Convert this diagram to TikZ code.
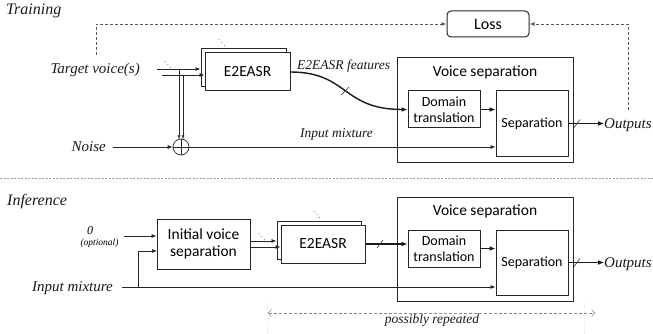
\documentclass[tikz,border=0pt]{standalone}
\usepackage{fontspec}
\setmainfont{Liberation Serif}
\newfontfamily\lblfont{Liberation Serif}
\newfontfamily\boxfont{Carlito}
\usetikzlibrary{arrows.meta}
\begin{document}
\begin{tikzpicture}[x=1pt,y=-1pt,
 box/.style={draw=black!85, line width=1pt, fill=white, font=\boxfont\fontsize{15.5}{17.5}\selectfont, inner sep=0pt, align=center},
 sbox/.style={box, font=\boxfont\fontsize{14}{16}\selectfont},
 lbl/.style={font=\lblfont\itshape\fontsize{15}{17}\selectfont, inner sep=0pt, text=black!90},
 slbl/.style={font=\lblfont\itshape\fontsize{13.5}{15}\selectfont, inner sep=0pt, text=black!90},
 arr/.style={-{Latex[length=5pt,width=4pt]}, line width=0.7pt, draw=black!85},
 sarr/.style={-{Latex[length=4pt,width=3pt]}, line width=0.6pt, draw=black!85},
 tarr/.style={-{Latex[length=6pt,width=5pt]}, line width=1.8pt, draw=black!90},
 carr/.style={-{Latex[length=6pt,width=5pt]}, line width=1.4pt, draw=black!90},
 tick/.style={line width=0.6pt, draw=black!80},
 lossln/.style={dash pattern=on 3pt off 2pt, draw=black!65, line width=0.9pt, -{Latex[length=5pt,width=4pt]}},
 dotsn/.style={font=\fontsize{7}{8}\selectfont, inner sep=0pt},
]
\useasboundingbox (0,0) rectangle (653,334);

% ---------------- Training ----------------
\node[lbl, font=\lblfont\itshape\fontsize{16}{18}\selectfont, anchor=base west] (trn) at (6,15) {Training};

\node[box, minimum width=82pt, minimum height=26pt, rounded corners=4pt, font=\boxfont\fontsize{16}{18}\selectfont] (loss) at (488,24) {Loss};

\node[box, minimum width=85pt, minimum height=38pt] (e2b) at (243.5,68) {};
\node[box, minimum width=85pt, minimum height=38pt] (e2f) at (247.5,72) {E2EASR};
\node[dotsn] (d1) at (222,40) {$\ddots$};

\node[box, minimum width=176pt, minimum height=104pt] (vs1) at (485,110) {};
\node[inner sep=0pt, font=\boxfont\fontsize{15.5}{17.5}\selectfont] (vs1t) at (485,72) {Voice separation};
\node[sbox, minimum width=72pt, minimum height=37pt] (dt1) at (444,109.5) {Domain\\translation};
\node[sbox, minimum width=72pt, minimum height=65pt] (sep1) at (532,123.5) {Separation};

\node[lbl, anchor=east] (tv) at (140,70) {Target voice(s)};
\node[dotsn] (d0) at (168,62) {$\ddots$};
\coordinate (tv1) at (157,69);
\coordinate (tv2) at (162,75);
\draw[arr] (tv1) -- (tv1 -| e2b.west);
\draw[arr] (tv2) -- (tv2 -| e2f.west);

\node[draw=black!85, line width=0.7pt, circle, minimum size=16pt, inner sep=0pt] (circ) at (181,147) {};
\draw[line width=0.6pt, black!85] (circ.north) -- (circ.south) (circ.west) -- (circ.east);
\coordinate (v1) at (179,69);
\coordinate (v2) at (183,75);
\coordinate (v1e) at (179,139.3);
\coordinate (v2e) at (183,139.3);
\draw[sarr] (v1) -- (v1e);
\draw[sarr] (v2) -- (v2e);

\node[lbl, anchor=east] (noise) at (106,147) {Noise};
\draw[arr, shorten <=7pt] (noise.east) -- (circ.west);

\draw[arr] (circ.east) -- (circ.east -| sep1.west);
\node[slbl, anchor=base west] (iml1) at (300,138) {Input mixture};

\node[slbl, anchor=base west] (fl) at (297,70) {E2EASR features};
\draw[carr] (e2f.east) .. controls (348,72) and (342,109.5) .. (dt1.west);
\draw[tick] (341,95) -- (349,87);

\draw[tarr] (dt1.east) -- (dt1.east -| sep1.west);

\node[lbl, anchor=west] (out1) at (604,125) {Outputs};
\draw[tarr] (sep1.east) -- (sep1.east -| out1.west);
\draw[tick] (574,127.5) -- (580,119.5);

\coordinate (lA) at (96,55);
\coordinate (lA2) at (96,24);
\coordinate (lB) at (628,110);
\coordinate (lB2) at (628,24);
\draw[lossln] (lA) -- (lA2) -- (loss.west);
\draw[lossln] (lB) -- (lB2) -- (loss.east);

% divider
\draw[dash pattern=on 2pt off 1.5pt, black!40, line width=0.6pt] (0,178) -- (653,178);

% ---------------- Inference ----------------
\node[lbl, font=\lblfont\itshape\fontsize{16}{18}\selectfont, anchor=base west] (inf) at (7,205) {Inference};

\node[box, minimum width=93pt, minimum height=50pt] (ivs) at (203.5,244) {Initial voice\\separation};

\node[box, minimum width=84pt, minimum height=38pt] (e2b2) at (319,240) {};
\node[box, minimum width=84pt, minimum height=38pt] (e2f2) at (323,244) {E2EASR};
\node[dotsn] (d2) at (317,212) {$\ddots$};
\node[dotsn] (d3) at (262,234) {$\ddots$};

\node[box, minimum width=176pt, minimum height=104pt] (vs2) at (485,249) {};
\node[inner sep=0pt, font=\boxfont\fontsize{15.5}{17.5}\selectfont] (vs2t) at (485,211) {Voice separation};
\node[sbox, minimum width=72pt, minimum height=37pt] (dt2) at (444,248.5) {Domain\\translation};
\node[sbox, minimum width=72pt, minimum height=65pt] (sep2) at (532,262.5) {Separation};

\coordinate (i1) at (250,241);
\coordinate (i2) at (250,247);
\draw[arr] (i1) -- (i1 -| e2b2.west);
\draw[arr] (i2) -- (i2 -| e2f2.west);

\draw[tarr] (e2f2.east) -- (e2f2.east -| dt2.west);
\draw[tick] (377,248) -- (383,240);
\draw[tarr] (dt2.east) -- (dt2.east -| sep2.west);

\node[lbl, anchor=west] (out2) at (604,264) {Outputs};
\draw[tarr] (sep2.east) -- (sep2.east -| out2.west);
\draw[tick] (574,266.5) -- (580,258.5);

\node[inner sep=0pt, font=\lblfont\itshape\fontsize{12}{13}\selectfont] (zero) at (90,230.5) {0};
\node[inner sep=0pt, font=\lblfont\itshape\fontsize{9.5}{10}\selectfont] (opt) at (99.5,243) {(optional)};
\coordinate (zc) at (124,236);
\draw[arr] (zc) -- (zc -| ivs.west);

\node[lbl, anchor=east] (im2) at (113,288) {Input mixture};
\coordinate (m0) at (122,287);
\coordinate (m1) at (138,287);
\coordinate (ivin) at (157,251);
\draw[arr] (m0) -- (m0 -| sep2.west);
\draw[arr] (m1) |- (ivin);

% possibly repeated
\draw[dotted, black!12, line width=0.6pt] (267,302) -- (267,334) (584,302) -- (584,334);
\coordinate (pr1) at (268,313);
\coordinate (pr2) at (595,313);
\draw[dash pattern=on 3pt off 2pt, black!45, line width=0.6pt, {Straight Barb[length=3pt,width=7pt]}-{Straight Barb[length=3pt,width=7pt]}] (pr1) -- (pr2);
\node[slbl, anchor=base] (prl) at (432,323) {possibly repeated};
\end{tikzpicture}
\end{document}
